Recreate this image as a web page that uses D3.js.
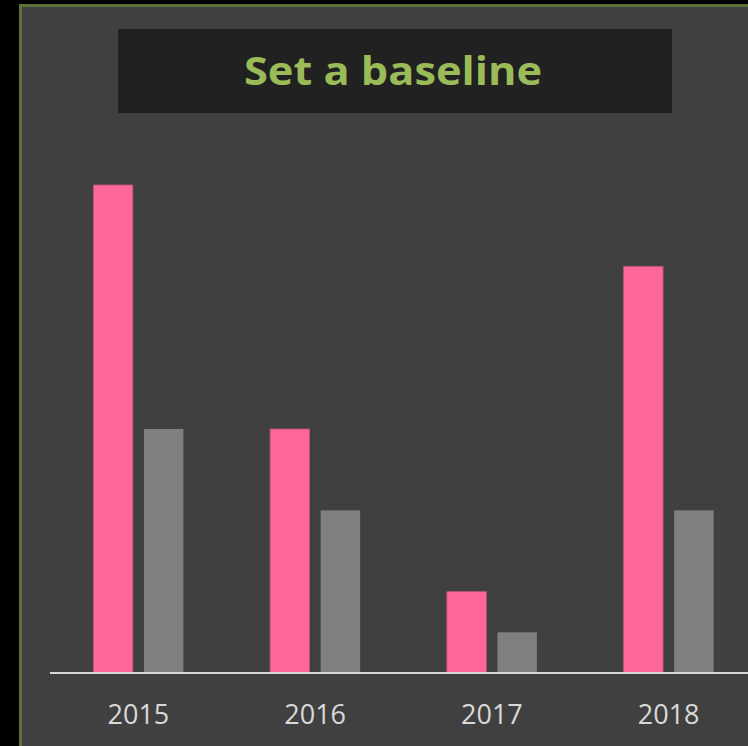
<!DOCTYPE html>
<meta charset="utf-8">
<script src="https://d3js.org/d3.v7.min.js"></script>
<style>
  body { margin: 0; background: #000; }
</style>
<div id="my_dataviz"></div>
<script>
// data
var years = ["2015", "2016", "2017", "2018"];
var series = ["current", "baseline"];
var currentValues = [12, 6, 2, 10];
var baselineValues = [6, 4, 1, 4];

var W = 748, H = 746;

var svg = d3.select("#my_dataviz")
  .append("svg")
    .attr("width", W)
    .attr("height", H);

// panel with olive border
svg.append("rect")
  .attr("x", 20.5).attr("y", 5.5)
  .attr("width", W + 20).attr("height", H + 20)
  .attr("fill", "#404040")
  .attr("stroke", "#5f7237")
  .attr("stroke-width", 3);

// title box
svg.append("rect")
  .attr("x", 118).attr("y", 29)
  .attr("width", 554).attr("height", 84)
  .attr("fill", "#212121");
svg.append("text")
  .attr("x", 393).attr("y", 85)
  .attr("text-anchor", "middle")
  .attr("textLength", 298)
  .attr("lengthAdjust", "spacingAndGlyphs")
  .style("font-family", "'Open Sans', sans-serif")
  .style("font-weight", "bold")
  .style("font-size", "40px")
  .style("fill", "#9bbb59")
  .text("Set a baseline");

// scales
var x = d3.scaleBand()
  .domain(years)
  .range([50, 757])
  .paddingInner(0)
  .paddingOuter(0);

var xSub = d3.scaleBand()
  .domain(series)
  .range([0, 90])
  .paddingInner(0.22);

var y = d3.scaleLinear()
  .domain([0, 12])
  .range([673, 185]);

var color = d3.scaleOrdinal()
  .domain(series)
  .range(["#ff6699", "#808080"]);

var rows = years.map(function(d, i) {
  return { year: d, values: [
    { key: "current", value: currentValues[i] },
    { key: "baseline", value: baselineValues[i] }
  ]};
});

var groups = svg.selectAll("g.year")
  .data(rows)
  .enter()
  .append("g")
    .attr("class", "year")
    .attr("transform", function(d) {
      return "translate(" + (x(d.year) + x.bandwidth() / 2 - 45) + ",0)";
    });

groups.selectAll("rect")
  .data(function(d) { return d.values; })
  .enter()
  .append("rect")
    .attr("x", function(d) { return xSub(d.key); })
    .attr("y", function(d) { return y(d.value); })
    .attr("width", xSub.bandwidth())
    .attr("height", function(d) { return y(0) - y(d.value); })
    .attr("fill", function(d) { return color(d.key); })
    .attr("stroke", function(d) { return d.key == "current" ? "#c2527c" : "none"; })
    .attr("stroke-width", 0.8);

// x axis
var axis = svg.append("g")
  .attr("transform", "translate(0,673)")
  .call(d3.axisBottom(x).tickSize(0).tickPadding(32));
axis.select(".domain")
  .attr("d", "M50,0H757")
  .attr("stroke", "#d9d9d9")
  .attr("stroke-width", 2);
axis.selectAll("text")
  .style("font-family", "'Open Sans', sans-serif")
  .style("font-size", "27px")
  .style("fill", "#d9d9d9");
</script>
